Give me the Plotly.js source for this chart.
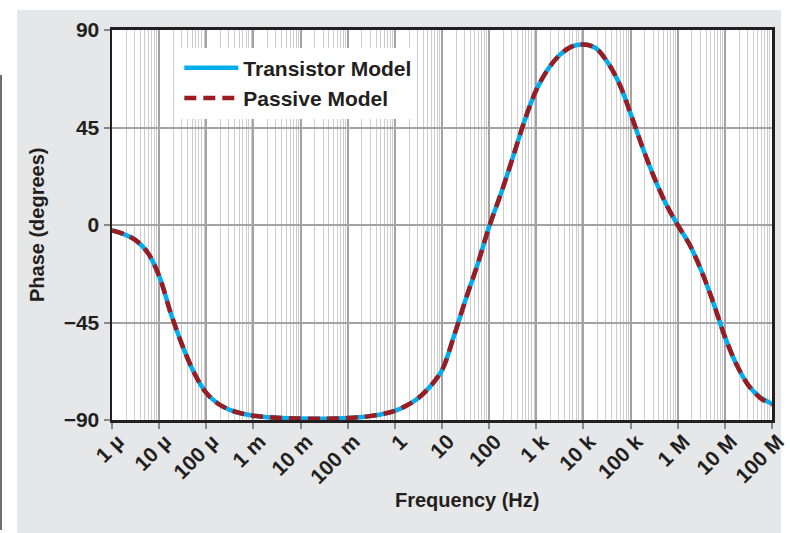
<!DOCTYPE html>
<html>
<head>
<meta charset="utf-8">
<script src="https://cdn.plot.ly/plotly-3.0.1.min.js"></script>
<style>html,body{margin:0;padding:0;background:#fff;}#chart{width:790px;height:533px;}</style>
</head>
<body>
<div id="chart"></div>
<script>
// Frequencies (Hz), quarter-decade steps
var freqHz = [1e-6, 1.78e-6, 3.16e-6, 5.62e-6, 1e-5, 1.78e-5, 3.16e-5, 5.62e-5, 1e-4, 1.78e-4, 3.16e-4, 5.62e-4,
  1e-3, 1.78e-3, 3.16e-3, 5.62e-3, 1e-2, 1.78e-2, 3.16e-2, 5.62e-2, 0.1, 0.178, 0.316, 0.562,
  1, 1.78, 3.16, 5.62, 10, 17.8, 31.6, 56.2, 100, 178, 316, 562, 1e3, 1.78e3, 3.16e3, 5.62e3,
  1e4, 1.78e4, 3.16e4, 5.62e4, 1e5, 1.78e5, 3.16e5, 5.62e5, 1e6, 1.78e6, 3.16e6, 5.62e6,
  1e7, 1.78e7, 3.16e7, 5.62e7, 1e8];
// Phase (degrees)
var transistorPhase = [-2.5, -4.2, -7, -12.5, -23.5, -41, -56, -68.5, -77.5, -82.5, -85.3, -87,
  -88, -88.6, -89, -89.2, -89.3, -89.4, -89.4, -89.3, -89.1, -88.7, -88.1, -87.2,
  -85.8, -83.3, -79.8, -74.5, -67, -51.5, -34.5, -18.5, -0.8, 14.5, 31, 48, 62.3, 72, 78.5, 82.3,
  83.3, 81.8, 75.5, 65.8, 51.5, 36, 22, 9.8, 0, -9, -21, -35.5,
  -51.5, -64.5, -74, -79.5, -82.5];
var passivePhase = [-2.5, -4.2, -7, -12.5, -23.5, -41, -56, -68.5, -77.5, -82.5, -85.3, -87,
  -88, -88.6, -89, -89.2, -89.3, -89.4, -89.4, -89.3, -89.1, -88.7, -88.1, -87.2,
  -85.8, -83.3, -79.8, -74.5, -67, -51.5, -34.5, -18.5, -0.8, 14.5, 31, 48, 62.3, 72, 78.5, 82.3,
  83.3, 81.8, 75.5, 65.8, 51.5, 36, 22, 9.8, 0, -9, -21, -35.5,
  -51.5, -64.5, -74, -79.8, -83];
var xTickVals = [1e-6, 1e-5, 1e-4, 1e-3, 1e-2, 1e-1, 1, 10, 100, 1e3, 1e4, 1e5, 1e6, 1e7, 1e8];
var xTickText = ['1 µ', '10 µ', '100 µ', '1 m', '10 m', '100 m', '1', '10', '100', '1 k', '10 k', '100 k', '1 M', '10 M', '100 M'];
var yTickVals = [-90, -45, 0, 45, 90];
var yTickText = ['\u221290', '\u221245', '0', '45', '90'];

var FONT = 'Liberation Sans, Arial, sans-serif';
var TXT = '#231f20';

var traces = [
  {x: freqHz, y: transistorPhase, name: 'Transistor Model', mode: 'lines',
   line: {color: '#00aeef', width: 4.5, shape: 'spline', smoothing: 1}},
  {x: freqHz, y: passivePhase, name: 'Passive Model', mode: 'lines',
   line: {color: '#9b1b20', width: 4.5, dash: '12px,7px', shape: 'spline', smoothing: 1}}
];

var layout = {
  width: 790, height: 533,
  margin: {l: 112, r: 18, t: 30, b: 113},
  paper_bgcolor: '#ffffff',
  plot_bgcolor: 'rgba(0,0,0,0)',
  font: {family: FONT, color: TXT, size: 20},
  showlegend: true,
  legend: {x: 0.102, y: 0.955, xanchor: 'left', yanchor: 'top', bgcolor: '#ffffff',
    borderwidth: 0, tracegroupgap: 0, itemwidth: 54,
    font: {family: FONT, size: 21, color: TXT, weight: 'bold'}},
  xaxis: {
    type: 'log', range: [-6, 8], tickmode: 'array', tickvals: xTickVals, ticktext: xTickText,
    tickangle: -45, tickfont: {family: FONT, size: 21, color: TXT, weight: 'bold'},
    ticklabelshift: 6, ticklabelstandoff: -8,
    ticks: 'outside', ticklen: 6, tickwidth: 2, tickcolor: '#888888',
    showgrid: true, gridcolor: '#a3a3a3', gridwidth: 2,
    minor: {tickmode: 'linear', dtick: 'D1', showgrid: true, gridcolor: '#cdcdcd', gridwidth: 1, ticks: ''},
    showline: true, linecolor: TXT, linewidth: 3, mirror: true, zeroline: false
  },
  yaxis: {
    range: [-90, 90], tickmode: 'array', tickvals: yTickVals, ticktext: yTickText,
    tickfont: {family: FONT, size: 21, color: TXT, weight: 'bold'},
    ticks: 'outside', ticklen: 6, tickwidth: 2, tickcolor: '#888888',
    showgrid: true, gridcolor: '#a3a3a3', gridwidth: 2,
    showline: true, linecolor: TXT, linewidth: 2.5, mirror: true, zeroline: false
  },
  annotations: [
    {text: 'Frequency (Hz)', xref: 'paper', yref: 'paper', x: 0.538, y: -0.205,
     xanchor: 'center', yanchor: 'middle', showarrow: false,
     font: {family: FONT, size: 20, color: TXT, weight: 'bold'}},
    {text: 'Phase (degrees)', xref: 'paper', yref: 'paper', x: -0.1136, y: 0.5, textangle: -90,
     xanchor: 'center', yanchor: 'middle', showarrow: false,
     font: {family: FONT, size: 20, color: TXT, weight: 'bold'}}
  ],
  shapes: [
    {type: 'rect', xref: 'paper', yref: 'paper', x0: -0.1439, x1: 1.0136, y0: -0.29, y1: 1.0513,
     fillcolor: '#e6e7e8', line: {width: 0}, layer: 'below'},
    {type: 'rect', xref: 'paper', yref: 'paper', x0: 0, x1: 1, y0: 0, y1: 1,
     fillcolor: '#ffffff', line: {width: 0}, layer: 'below'},
    {type: 'line', xref: 'paper', yref: 'paper', x0: -0.1682, x1: -0.1682, y0: -0.282, y1: 0.8846,
     line: {color: '#6d6e71', width: 2}}
  ]
};

Plotly.newPlot('chart', traces, layout, {staticPlot: true, displayModeBar: false});
</script>
</body>
</html>
